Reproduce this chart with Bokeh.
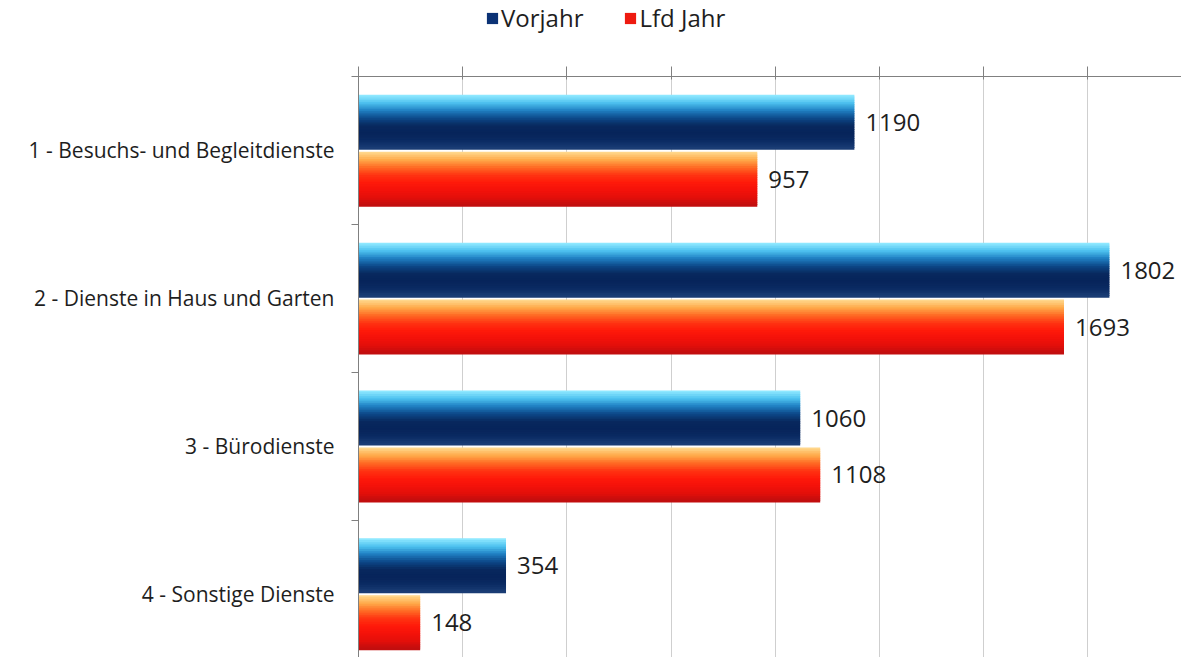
from bokeh.plotting import figure
from bokeh.layouts import column
from bokeh.models import (Range1d, FixedTicker, SingleIntervalTicker, Legend, LegendItem)
from bokeh.core.properties import value
from bokeh.embed import file_html
from bokeh.resources import INLINE

categories = ["1 - Besuchs- und Begleitdienste", "2 - Dienste in Haus und Garten",
              "3 - Bürodienste", "4 - Sonstige Dienste"]
vorjahr = [1190, 1802, 1060, 354]
lfd_jahr = [957, 1693, 1108, 148]
series_names = ["Vorjahr", "Lfd Jahr"]
swatch_colors = ["#0b3275", "#ee1a10"]

# key colours of the shaded bars (top -> bottom)
keys_vorjahr = ["#8ee8ff", "#4cc0ee", "#1f7fc2", "#0d4a8a", "#08295f", "#07245a", "#0a2a62", "#1a3c74"]
keys_lfd = ["#ffd68a", "#ffa848", "#ff6a24", "#ff3412", "#ff1a0a", "#f4120a", "#e40f0a", "#c20e0e"]


def hex2rgb(h):
    return tuple(int(h[i:i + 2], 16) for i in (1, 3, 5))


def gradient(keys, n):
    out = []
    for k in range(n):
        t = k / (n - 1) * (len(keys) - 1)
        i = min(int(t), len(keys) - 2)
        f = t - i
        a, b = hex2rgb(keys[i]), hex2rgb(keys[i + 1])
        out.append("#%02x%02x%02x" % tuple(round(a[j] + (b[j] - a[j]) * f) for j in range(3)))
    return out


band_h = 0.365
offsets = [-0.19, 0.195]

W = 1181
LEG_H = 40
H = 657 - LEG_H
FRAME_LEFT = 358

p = figure(width=W, height=H, output_backend="svg", toolbar_location=None,
           x_range=Range1d(0, 1975), y_range=Range1d(3.93, 0),
           x_axis_location="above", min_border_left=FRAME_LEFT, min_border_right=0,
           min_border_bottom=0, min_border_top=76 - LEG_H)
p.background_fill_color = "white"
p.border_fill_color = "white"
p.outline_line_color = None

NS = 30
for values, keys, off in zip([vorjahr, lfd_jahr], [keys_vorjahr, keys_lfd], offsets):
    grad = gradient(keys, NS)
    sh = band_h / NS
    for k, col in enumerate(grad):
        ys = [i + 0.5 + off - band_h / 2 + sh * (k + 0.5) for i in range(len(categories))]
        p.hbar(y=ys, right=values, left=0, height=sh * 1.6, fill_color=col, line_color=None)

# value labels
for values, off in zip([vorjahr, lfd_jahr], offsets):
    ys = [i + 0.5 + off for i in range(len(categories))]
    p.text(x=values, y=ys, text=[str(v) for v in values], x_offset=11,
           text_baseline="middle", text_align="left",
           text_font=value("Open Sans"), text_font_size="24px", text_color="#1e1e1e")

# top x axis (no labels)
xa = p.xaxis[0]
xa.ticker = SingleIntervalTicker(interval=250, num_minor_ticks=0)
xa.major_label_text_color = None
xa.major_label_text_font_size = "8px"
xa.major_label_standoff = 0
xa.major_tick_out = 10
xa.major_tick_in = 3
xa.minor_tick_line_color = None
xa.axis_line_color = "#808080"
xa.major_tick_line_color = "#808080"

# left category axis
ya = p.yaxis[0]
centers = [i + 0.5 for i in range(len(categories))]
ya.ticker = FixedTicker(ticks=centers, minor_ticks=[float(i) for i in range(len(categories) + 1)])
ya.major_label_overrides = {c: lab for c, lab in zip(centers, categories)}
ya.major_tick_line_color = None
ya.minor_tick_out = 7
ya.minor_tick_in = 0
ya.minor_tick_line_color = "#808080"
ya.axis_line_color = "#808080"
ya.major_label_standoff = 17
ya.major_label_text_font = "Open Sans"
ya.major_label_text_font_size = "21px"
ya.major_label_text_color = "#1e1e1e"

p.xgrid.grid_line_color = "#cfcfcf"
p.xgrid.ticker = xa.ticker
p.ygrid.grid_line_color = None

# legend strip above the chart (its bars lie outside its own visible range)
lf = figure(width=W, height=LEG_H, output_backend="svg", toolbar_location=None,
            x_axis_location=None, y_axis_location=None,
            x_range=Range1d(0, 1975), y_range=Range1d(100, 101),
            min_border_left=0, min_border_right=0, min_border_top=0, min_border_bottom=0)
lf.outline_line_color = None
lf.xgrid.grid_line_color = None
lf.ygrid.grid_line_color = None
rs = [lf.hbar(y=list(range(len(categories))), left=0, right=vals, height=band_h,
              fill_color=c, line_color=None)
      for vals, c in zip([vorjahr, lfd_jahr], swatch_colors)]
legend = Legend(items=[LegendItem(label=n, renderers=[r]) for n, r in zip(series_names, rs)],
                orientation="horizontal", location=(485 - FRAME_LEFT, 6))
legend.border_line_color = None
legend.background_fill_alpha = 0
legend.label_text_font = "Open Sans"
legend.label_text_font_size = "24px"
legend.label_text_color = "#1e1e1e"
legend.glyph_width = 14
legend.glyph_height = 14
legend.label_standoff = 2
legend.spacing = 40
legend.padding = 0
legend.margin = 0
lf.add_layout(legend, "center")

layout = column(lf, p, spacing=0)
open("out.html", "w").write(file_html(layout, INLINE))
